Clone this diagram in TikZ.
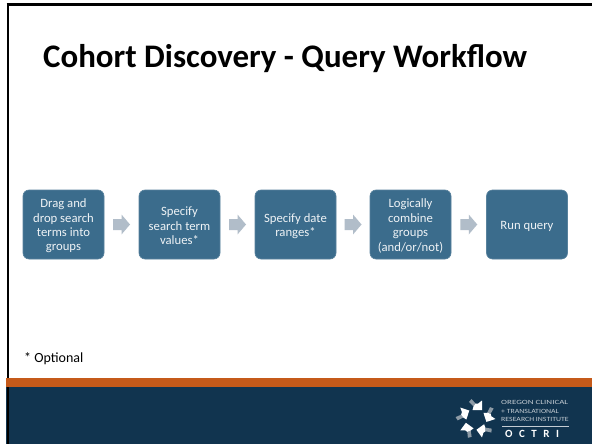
\documentclass[tikz,border=0pt]{standalone}
\usepackage{fontspec}
\setmainfont{Carlito}
\definecolor{boxblue}{HTML}{3B6C8C}
\definecolor{arrowgrey}{HTML}{B1BDC9}
\definecolor{bandorange}{HTML}{C55A1A}
\definecolor{navy}{HTML}{11344F}
\definecolor{logotext}{HTML}{C4CCD3}
\definecolor{tailgrey}{HTML}{8E9BA6}
\newcommand\steptext[1]{\raisebox{-1.5pt}[\height][\depth]{\parbox{79pt}{\centering #1}}}
\tikzset{
  stepbox/.style={draw=boxblue!85!white,line width=0.6pt,fill=boxblue,rounded corners=6pt,minimum width=81pt,minimum height=69pt,
    inner sep=0pt,text=white!92!boxblue,font=\fontsize{12.7}{14.4}\selectfont,anchor=center},
  flowarrow/.style={fill=arrowgrey,draw=none},
  logoline/.style={anchor=west,inner sep=0pt,text=logotext,font=\fontsize{6.4}{6.4}\selectfont},
}
\begin{document}
\begin{tikzpicture}[x=1pt,y=-1pt]
\useasboundingbox (0,0) rectangle (592,444);
\fill[white] (0,0) rectangle (592,444);
\fill[bandorange] (6,378) rectangle (592,387.3);
\fill[navy] (6,387.3) rectangle (592,444);
\draw[black,line width=2.4pt] (6.5,4.5) -- (592,4.5);
\draw[black,line width=2.6pt] (8,3.3) -- (8,378);
\draw[black,line width=2.6pt] (8,387.3) -- (8,444);
\node[anchor=west,inner sep=0pt,font=\fontsize{32.9}{38}\selectfont\bfseries] (title) at (43,59) {Cohort Discovery - Query Workflow};
\node[stepbox] (b1) at (63.5,224.5) {\steptext{Drag and\\drop search\\terms into\\groups}};
\node[stepbox] (b2) at (179.5,224.5) {\steptext{Specify\\search term\\values*}};
\node[stepbox] (b3) at (295.5,224.5) {\steptext{Specify date\\ranges*}};
\node[stepbox] (b4) at (410.5,224.5) {\steptext{Logically\\combine\\groups\\(and/or/not)}};
\node[stepbox] (b5) at (527,224.5) {\steptext{Run query}};
\foreach \a/\b [count=\i] in {b1/b2,b2/b3,b3/b4,b4/b5}{
  \path (\a.east) -- (\b.west) coordinate[midway] (m\i);
  \fill[flowarrow] ([shift={(-8.5,-5.5)}]m\i) -- ([shift={(0,-5.5)}]m\i) -- ([shift={(0,-10)}]m\i) -- ([shift={(8.5,0)}]m\i) -- ([shift={(0,10)}]m\i) -- ([shift={(0,5.5)}]m\i) -- ([shift={(-8.5,5.5)}]m\i) -- cycle;
}
\node[anchor=west,inner sep=0pt,font=\fontsize{14}{16}\selectfont] (opt) at (24,359) {* Optional};
% logo
\coordinate (lc) at (476,419);
\foreach \ang in {0,-72,-144,-216,-288}{
  \begin{scope}[shift={(lc)},rotate=\ang]
    \fill[tailgrey] (-0.5,-15.5) -- (-4.5,-20) -- (-7,-17) -- (-2.5,-12.5) -- cycle;
    \fill[white] (6,-9) -- (6,-18.5) -- (2.2,-15.5) -- (-0.5,-15.5) -- (-2.5,-12.5) -- (-3.5,-9) -- cycle;
  \end{scope}
}
\node[logoline] (l1) at (501,402) {\scalebox{1.40}[1]{OREGON CLINICAL}};
\node[logoline] (l2) at (501,411) {\scalebox{1.22}[1]{+ TRANSLATIONAL}};
\node[logoline] (l3) at (501,419.5) {\scalebox{1.22}[1]{RESEARCH INSTITUTE}};
\draw[logotext,line width=0.5pt] (502,426) -- (569,426);
\node[anchor=west,inner sep=0pt,text=white,font=\fontsize{11}{11}\selectfont\bfseries] (octri) at (505,434) {O\hspace{6.5pt}C\hspace{6.5pt}T\hspace{6.5pt}R\hspace{6.5pt}I};
\end{tikzpicture}
\end{document}
